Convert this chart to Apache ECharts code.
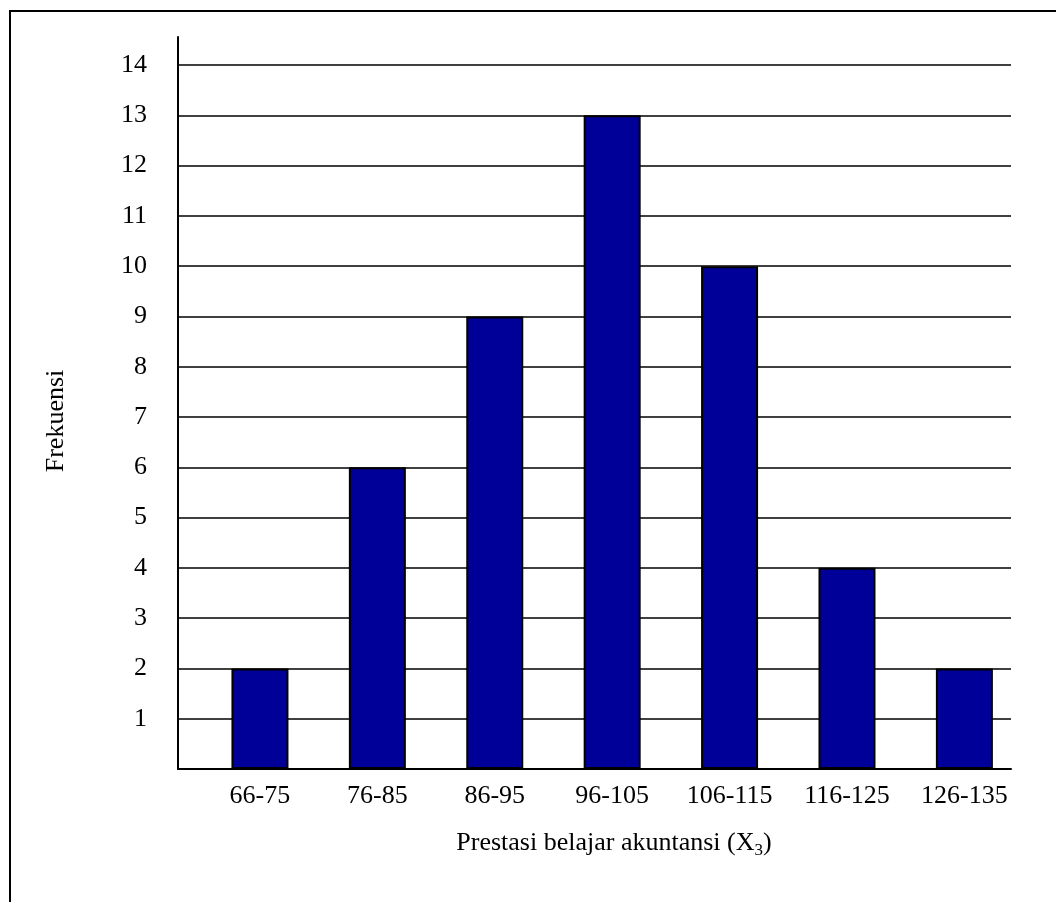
<!DOCTYPE html>
<html>
<head>
<meta charset="utf-8">
<script src="https://cdn.jsdelivr.net/npm/echarts@6/dist/echarts.min.js"></script>
<style>
  html, body { margin: 0; padding: 0; background: #fff; }
  #chart { width: 1056px; height: 902px; }
</style>
</head>
<body>
<div id="chart"></div>
<script>
// kelas interval dan frekuensi
let categories = ['66-75', '76-85', '86-95', '96-105', '106-115', '116-125', '126-135'];
let frekuensi = [2, 6, 9, 13, 10, 4, 2];
let yTicks = [0, 1, 2, 3, 4, 5, 6, 7, 8, 9, 10, 11, 12, 13, 14];
let yLabels = [1, 2, 3, 4, 5, 6, 7, 8, 9, 10, 11, 12, 13, 14];

let font = '"Liberation Serif", "Times New Roman", serif';
let chart = echarts.init(document.getElementById('chart'));

let option = {
  backgroundColor: '#fff',
  animation: false,
  textStyle: {fontFamily: font, color: '#000'},
  grid: {left: 178, right: 45, top: 37, bottom: 133},
  title: {
    left: 609, top: 823, textAlign: 'center',
    text: 'Prestasi belajar akuntansi (X{sub|3})',
    textStyle: {
      fontFamily: font, fontSize: 26, fontWeight: 'normal', color: '#000',
      rich: {sub: {fontFamily: font, fontSize: 17, color: '#000', padding: [14, 0, 0, 0]}}
    }
  },
  graphic: [
    {
      type: 'rect', silent: true,
      shape: {x: 10, y: 11, width: 1200, height: 1000},
      style: {fill: 'none', stroke: '#000', lineWidth: 2}
    },
    {
      type: 'text', x: 56, y: 421, rotation: Math.PI / 2,
      style: {
        text: 'Frekuensi', font: '26px ' + font, fill: '#000',
        align: 'center', verticalAlign: 'middle'
      }
    }
  ],
  xAxis: {
    type: 'value', min: -0.698, max: 6.397,
    axisLine: {show: true, onZero: false, lineStyle: {color: '#000', width: 2}},
    axisTick: {show: false},
    splitLine: {show: false},
    axisLabel: {
      customValues: categories.map((c, i) => i),
      formatter: v => categories[Math.round(v)],
      fontFamily: font, fontSize: 26, color: '#000', margin: 14
    }
  },
  yAxis: {
    type: 'value', min: 0, max: 14.557,
    axisLine: {show: true, onZero: false, lineStyle: {color: '#000', width: 2}},
    axisTick: {show: false, customValues: yTicks},
    splitLine: {show: true, lineStyle: {color: '#000', width: 1.5}},
    axisLabel: {
      customValues: yLabels,
      fontFamily: font, fontSize: 26, color: '#000', margin: 31,
      padding: [0, 0, 8, 0]
    }
  },
  series: [{
    type: 'bar',
    barWidth: 57,
    data: frekuensi.map((v, i) => [i, v]),
    itemStyle: {color: '#000099', borderColor: '#000', borderWidth: 2}
  }]
};

chart.setOption(option);
</script>
</body>
</html>
